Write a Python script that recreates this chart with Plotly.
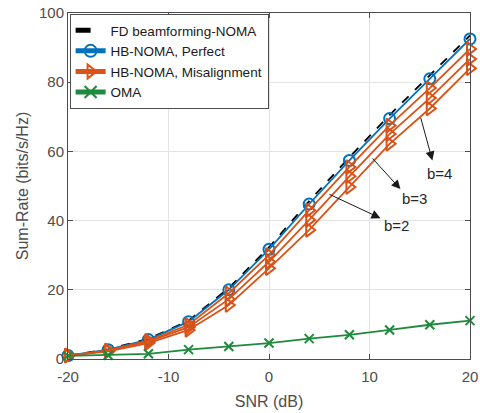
import plotly.graph_objects as go

snr = [-20, -16, -12, -8, -4, 0, 4, 8, 12, 16, 20]
fd_noma = [1.0, 2.8, 5.8, 11.1, 20.5, 32.3, 45.6, 58.3, 70.5, 82.0, 93.5]
hb_perfect = [1.0, 2.7, 5.6, 10.8, 20.0, 31.7, 44.8, 57.4, 69.5, 81.0, 92.5]
hb_mis_b4 = [1.0, 2.5, 5.3, 9.9, 19.0, 30.1, 43.0, 55.5, 67.5, 78.3, 89.6]
hb_mis_b3 = [1.0, 2.4, 5.0, 9.2, 17.3, 28.1, 40.2, 52.8, 65.0, 75.4, 86.7]
hb_mis_b2 = [0.9, 2.2, 4.6, 8.4, 15.6, 26.2, 37.3, 49.7, 62.2, 72.4, 84.0]
oma = [0.9, 1.1, 1.5, 2.7, 3.6, 4.6, 5.9, 7.0, 8.4, 9.9, 11.1]

x_ticks = [-20, -10, 0, 10, 20]
x_tick_labels = ["-20", "-10", "0", "10", "20"]
y_ticks = [0, 20, 40, 60, 80, 100]
y_tick_labels = ["0", "20", "40", "60", "80", "100"]

# annotation labels, arrow tails (on curves), arrow heads, text centres
b_labels = ["b=4", "b=3", "b=2"]
arrow_tail = [(15.06, 70.1), (10.17, 58.4), (5.86, 47.8)]
arrow_head = [(16.26, 57.4), (13.08, 49.1), (11.09, 40.7)]
text_pos = [(16.95, 53.7), (14.47, 46.5), (12.68, 38.7)]

blue = "#0072BD"
orange = "#D95319"
green = "#1E8A3C"
font_family = "Liberation Sans, Arial, sans-serif"

fig = go.Figure()
fig.add_trace(go.Scatter(x=snr, y=fd_noma, mode="lines", name="FD beamforming-NOMA",
                         cliponaxis=False,
                         line=dict(color="black", width=1.8, dash="dash")))
fig.add_trace(go.Scatter(x=snr, y=hb_perfect, mode="lines+markers", name="HB-NOMA, Perfect",
                         cliponaxis=False,
                         line=dict(color=blue, width=1.8),
                         marker=dict(symbol="circle-open", size=11, color=blue, line=dict(width=2))))
for i, ys in enumerate([hb_mis_b4, hb_mis_b3, hb_mis_b2]):
    fig.add_trace(go.Scatter(x=snr, y=ys, mode="lines+markers", name="HB-NOMA, Misalignment",
                             legendgroup="mis", showlegend=(i == 0), cliponaxis=False,
                             line=dict(color=orange, width=1.8),
                             marker=dict(symbol="triangle-right-open", size=12, color=orange,
                                         line=dict(width=2))))
fig.add_trace(go.Scatter(x=snr, y=oma, mode="lines+markers", name="OMA",
                         cliponaxis=False,
                         line=dict(color=green, width=1.8),
                         marker=dict(symbol="x-thin-open", size=9, color=green,
                                     line=dict(width=2, color=green))))

for lab, (tx, ty), (hx, hy), (px, py) in zip(b_labels, arrow_tail, arrow_head, text_pos):
    fig.add_annotation(x=hx, y=hy, ax=tx, ay=ty, xref="x", yref="y", axref="x", ayref="y",
                       text="", showarrow=True, arrowhead=2, arrowsize=1.8, arrowwidth=1,
                       arrowcolor="#1a1a1a")
    fig.add_annotation(x=px, y=py, xref="x", yref="y", text=lab, showarrow=False,
                       font=dict(size=15, color="#262626", family=font_family))

axis_common = dict(showline=True, linecolor="#4d4d4d", linewidth=1, mirror="ticks",
                   ticks="inside", ticklen=5, tickcolor="#4d4d4d", automargin=False,
                   ticklabeloverflow="allow",
                   showgrid=True, gridcolor="#e3e3e3", gridwidth=1, zeroline=False,
                   tickfont=dict(size=15, color="#4d4d4d", family=font_family))

fig.update_layout(
    width=480, height=413,
    paper_bgcolor="white", plot_bgcolor="white",
    margin=dict(l=68, r=10, t=13, b=54),
    font=dict(family=font_family, color="#262626"),
    xaxis=dict(range=[-20, 20], tickvals=x_ticks, ticktext=x_tick_labels, ticklabelstandoff=4,
               title=dict(text="SNR (dB)", font=dict(size=16, color="#4d4d4d"), standoff=11),
               **axis_common),
    yaxis=dict(range=[0, 100], tickvals=y_ticks, ticktext=y_tick_labels,
               title=dict(text="Sum-Rate (bits/s/Hz)", font=dict(size=16, color="#4d4d4d"), standoff=6),
               **axis_common),
    legend=dict(x=0.004, y=0.997, xanchor="left", yanchor="top", bgcolor="white",
                bordercolor="#4d4d4d", borderwidth=1, font=dict(size=13.5, color="#1a1a1a"),
                tracegroupgap=0, itemsizing="constant"),
    showlegend=True,
)

fig.write_html("out.html", config={"displayModeBar": False},
               post_script="document.body.style.margin='0';document.body.style.overflow='hidden';")
